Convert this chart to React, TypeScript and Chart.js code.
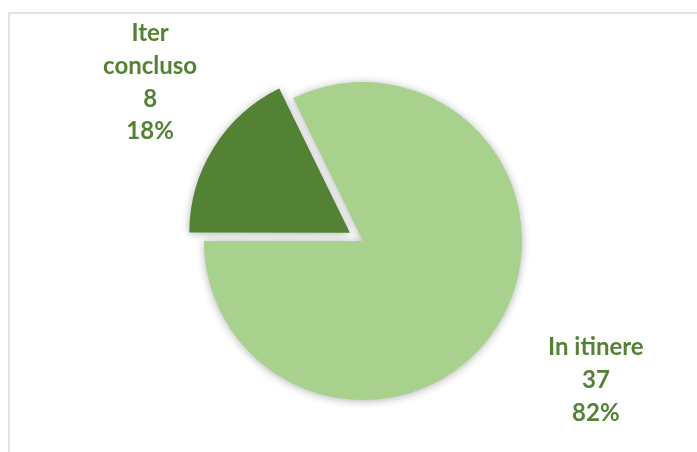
import React, { useEffect, useRef } from "react";
import { Chart, registerables } from "chart.js";

Chart.register(...registerables);

const categories = ["Iter concluso", "In itinere"];
const values = [8, 37];
const percentLabels = ["18%", "82%"];
const sliceColors = ["#548235", "#A9D18E"];
// Chart.js arcs translate by offset / 4 px
const sliceOffsets = [62, 0];
const labelNudges = [
  [15, -16],
  [5, -3],
];

const W = 697;
const H = 452;

const framePlugin = {
  id: "frame",
  beforeDraw(chart: any) {
    const ctx = chart.ctx;
    ctx.save();
    ctx.fillStyle = "#ffffff";
    ctx.fillRect(0, 0, chart.width, chart.height);
    ctx.strokeStyle = "#d9d9d9";
    ctx.lineWidth = 1.5;
    ctx.strokeRect(9, 13, chart.width + 20, chart.height + 20);
    ctx.restore();
  },
};

const shadowPlugin = {
  id: "shadow",
  beforeDatasetsDraw(chart: any) {
    const ctx = chart.ctx;
    ctx.save();
    ctx.shadowColor = "rgba(0,0,0,0.3)";
    ctx.shadowBlur = 8;
    ctx.shadowOffsetX = 0;
    ctx.shadowOffsetY = 1;
  },
  afterDatasetsDraw(chart: any) {
    chart.ctx.restore();
  },
};

const labelPlugin = {
  id: "sliceLabels",
  afterDatasetsDraw(chart: any) {
    const ctx = chart.ctx;
    const meta = chart.getDatasetMeta(0);
    const data = chart.data.datasets[0].data;
    ctx.save();
    ctx.font = "bold 24px Lato";
    ctx.fillStyle = "#548235";
    ctx.textAlign = "center";
    ctx.textBaseline = "middle";
    const lineH = 32.7;
    meta.data.forEach((arc: any, i: number) => {
      const p = arc.getProps(["x", "y", "startAngle", "endAngle", "outerRadius"], true);
      const mid = (p.startAngle + p.endAngle) / 2;
      const f = 1.69;
      const cx = p.x + Math.cos(mid) * p.outerRadius * f + labelNudges[i][0];
      const cy = p.y + Math.sin(mid) * p.outerRadius * f + labelNudges[i][1];
      const name = String(chart.data.labels[i]);
      const lines: string[] = [];
      if (ctx.measureText(name).width > 115) {
        name.split(" ").forEach((w) => lines.push(w));
      } else {
        lines.push(name);
      }
      lines.push(String(data[i]));
      lines.push(percentLabels[i]);
      const top = cy - ((lines.length - 1) * lineH) / 2;
      lines.forEach((t, k) => ctx.fillText(t, cx, top + k * lineH));
    });
    ctx.restore();
  },
};

export default function App() {
  const ref = useRef<HTMLCanvasElement | null>(null);
  useEffect(() => {
    if (!ref.current) return;
    const chart = new Chart(ref.current, {
      type: "pie",
      data: {
        labels: categories,
        datasets: [
          {
            data: values,
            backgroundColor: sliceColors,
            borderWidth: 0,
            offset: sliceOffsets,
            hoverOffset: 0,
          } as any,
        ],
      },
      options: {
        animation: false,
        responsive: false,
        maintainAspectRatio: false,
        rotation: 270,
        radius: 159,
        layout: { padding: { left: 29, right: 0, top: 30, bottom: 0 } },
        events: [],
        plugins: {
          legend: { display: false },
          tooltip: { enabled: false },
        },
      } as any,
      plugins: [framePlugin, shadowPlugin, labelPlugin],
    });
    return () => chart.destroy();
  }, []);
  return (
    <div style={{ position: "absolute", left: 0, top: 0, width: W, height: H }}>
      <canvas ref={ref} width={W} height={H} style={{ width: W, height: H, display: "block" }} />
    </div>
  );
}
